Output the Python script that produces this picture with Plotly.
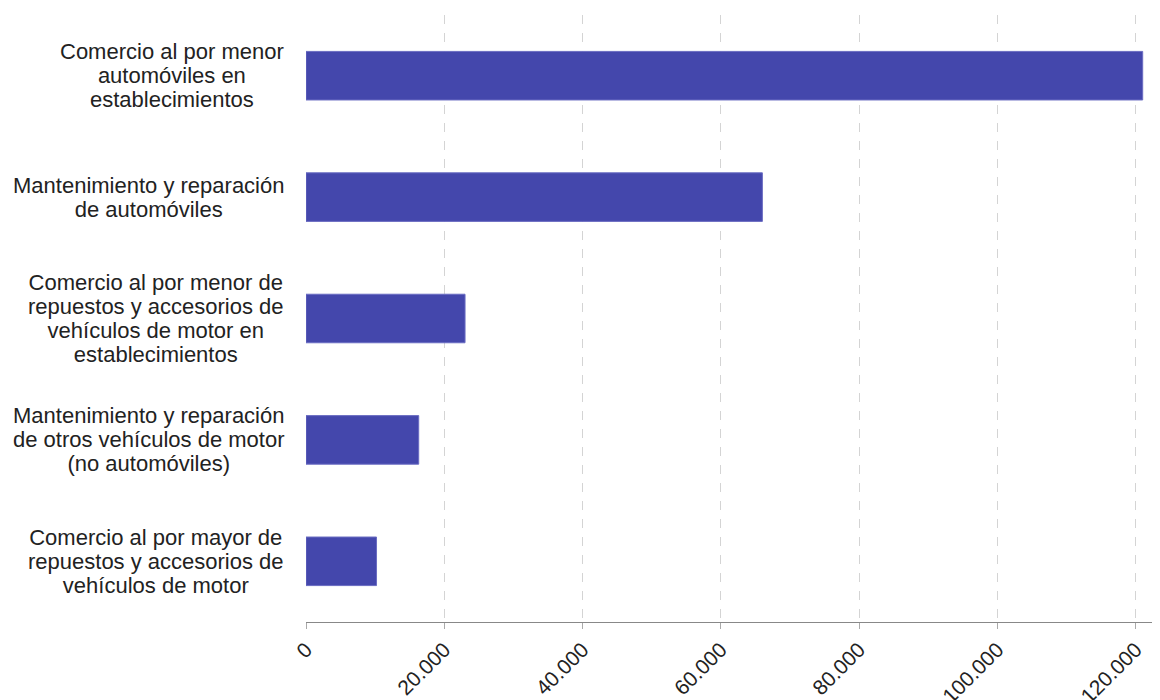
import plotly.graph_objects as go

categories = [
    "Comercio al por mayor de<br>repuestos y accesorios de<br>vehículos de motor",
    "Mantenimiento y reparación<br>de otros vehículos de motor<br>(no automóviles)",
    "Comercio al por menor de<br>repuestos y accesorios de<br>vehículos de motor en<br>establecimientos",
    "Mantenimiento y reparación<br>de automóviles",
    "Comercio al por menor<br>automóviles en<br>establecimientos",
]
values = [10200, 16300, 23000, 66000, 121000]
tick_vals = [0, 20000, 40000, 60000, 80000, 100000, 120000]
tick_text = ["0", "20.000", "40.000", "60.000", "80.000", "100.000", "120.000"]

FONT = "Liberation Sans, Arial, Helvetica, sans-serif"
LABEL_SIZE = 22
LINE_BASE = 18.5  # base font size controls line spacing (1.3 em)


def styled(label):
    return "<br>".join(
        f'<span style="font-size:{LABEL_SIZE}px">{ln}</span>' for ln in label.split("<br>")
    )


fig = go.Figure()
fig.add_trace(go.Bar(
    x=values,
    y=list(range(len(categories))),
    orientation="h",
    width=0.4,
    marker=dict(color="#4447ac", line=dict(color="#6a6cc2", width=1)),
    hoverinfo="x",
))

for i, c in enumerate(categories):
    fig.add_annotation(
        x=0, xref="paper", y=i, yref="y",
        text=styled(c), showarrow=False,
        xanchor="right", yanchor="middle", align="center",
        xshift=-20,
        font=dict(family=FONT, size=LINE_BASE, color="#222222"),
    )

fig.update_layout(
    width=1160, height=700,
    margin=dict(l=298, r=0, t=7, b=86),
    plot_bgcolor="white", paper_bgcolor="white",
    showlegend=False,
    font=dict(family=FONT, color="#222222"),
    xaxis=dict(
        range=[0, 124660],
        automargin=False,
        tickvals=tick_vals, ticktext=tick_text,
        tickangle=-45,
        tickfont=dict(family=FONT, size=21, color="#222222"),
        showgrid=True, gridcolor="#d4d4d4", griddash="dash", gridwidth=1,
        zeroline=False,
        showline=True, linecolor="#888888", linewidth=1,
        ticks="outside", ticklen=6, tickcolor="#aaaaaa",
        fixedrange=True,
    ),
    yaxis=dict(
        range=[-0.5, 4.5],
        automargin=False,
        showticklabels=False, showgrid=False, zeroline=False,
        showline=False, fixedrange=True,
    ),
)

fig.write_html("out.html")
